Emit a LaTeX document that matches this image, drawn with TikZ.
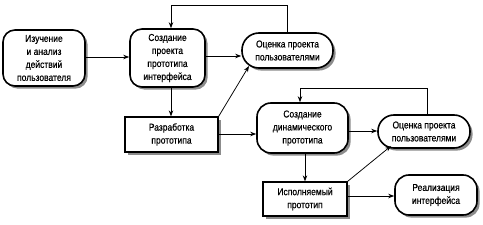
\documentclass[tikz,border=0pt]{standalone}
\usepackage{fontspec}
\setmainfont{Liberation Sans}[FakeStretch=0.85,FakeBold=0.4]
\usetikzlibrary{arrows.meta,shadows,positioning}
\begin{document}
\begin{tikzpicture}[x=1pt,y=-1pt,
  font=\fontsize{10}{13}\selectfont,
  shad/.style={drop shadow={shadow xshift=2.6pt,shadow yshift=-2.6pt,fill=black!45,opacity=1}},
  rbox/.style={draw,line width=1.6pt,fill=white,align=center,inner sep=1pt,shad,rectangle,rounded corners=#1},
  sbox/.style={draw,line width=1.3pt,fill=white,align=center,inner sep=1pt,shad,rectangle},
  arr/.style={-{Stealth[length=6pt,width=4.5pt]},line width=0.75pt}]
\useasboundingbox (0,0) rectangle (483,225);
\node[rbox=12pt,minimum width=82pt,minimum height=56pt] (n1) at (44,58) {Изучение\\и анализ\\действий\\пользователя};
\node[rbox=12pt,minimum width=75pt,minimum height=58pt] (n2) at (167.5,58) {Создание\\проекта\\прототипа\\интерфейса};
\node[rbox=17pt,minimum width=91pt,minimum height=35pt] (n3) at (287.5,50.5) {Оценка проекта\\пользователями};
\node[sbox,minimum width=93pt,minimum height=35pt] (n4) at (171.5,134.5) {Разработка\\прототипа};
\node[rbox=14pt,minimum width=91pt,minimum height=50pt] (n5) at (302.5,128) {Создание\\динамического\\прототипа};
\node[rbox=16pt,minimum width=92pt,minimum height=33pt] (n6) at (424,131.5) {Оценка проекта\\пользователями};
\node[sbox,minimum width=84pt,minimum height=34pt] (n7) at (305,199) {Исполняемый\\прототип};
\node[rbox=14pt,minimum width=82pt,minimum height=40pt] (n8) at (436,195) {Реализация\\интерфейса};
\coordinate (t1) at (287,5);
\coordinate (t2) at (171,5);
\coordinate (t3) at (427,88);
\coordinate (t4) at (300,88);
\coordinate (y57) at (0,57);
\coordinate (y56) at (0,56);
\coordinate (y134) at (0,134);
\coordinate (y131) at (0,131);
\coordinate (y196) at (0,196);
\coordinate (x305) at (305,0);
\coordinate (h3) at (249,66);
\coordinate (h6) at (391,146);
\draw[arr] (n1.east |- y57) -- (n2.west |- y57);
\draw[arr] (n2.east |- y56) -- (n3.west |- y56);
\draw[arr] (n3.north -| t1) -- (t1) -- (t2) -- (n2.north -| t2);
\draw[arr] (n2.south -| t2) -- (n4.north -| t2);
\draw[arr] (n4.north east) -- (h3);
\draw[arr] (n4.east |- y134) -- (n5.west |- y134);
\draw[arr] (n5.east |- y131) -- (n6.west |- y131);
\draw[arr] (n6.north -| t3) -- (t3) -- (t4) -- (n5.north -| t4);
\draw[arr] (n5.south -| x305) -- (n7.north -| x305);
\draw[arr] (n7.north east) -- (h6);
\draw[arr] (n7.east |- y196) -- (n8.west |- y196);
\end{tikzpicture}
\end{document}
